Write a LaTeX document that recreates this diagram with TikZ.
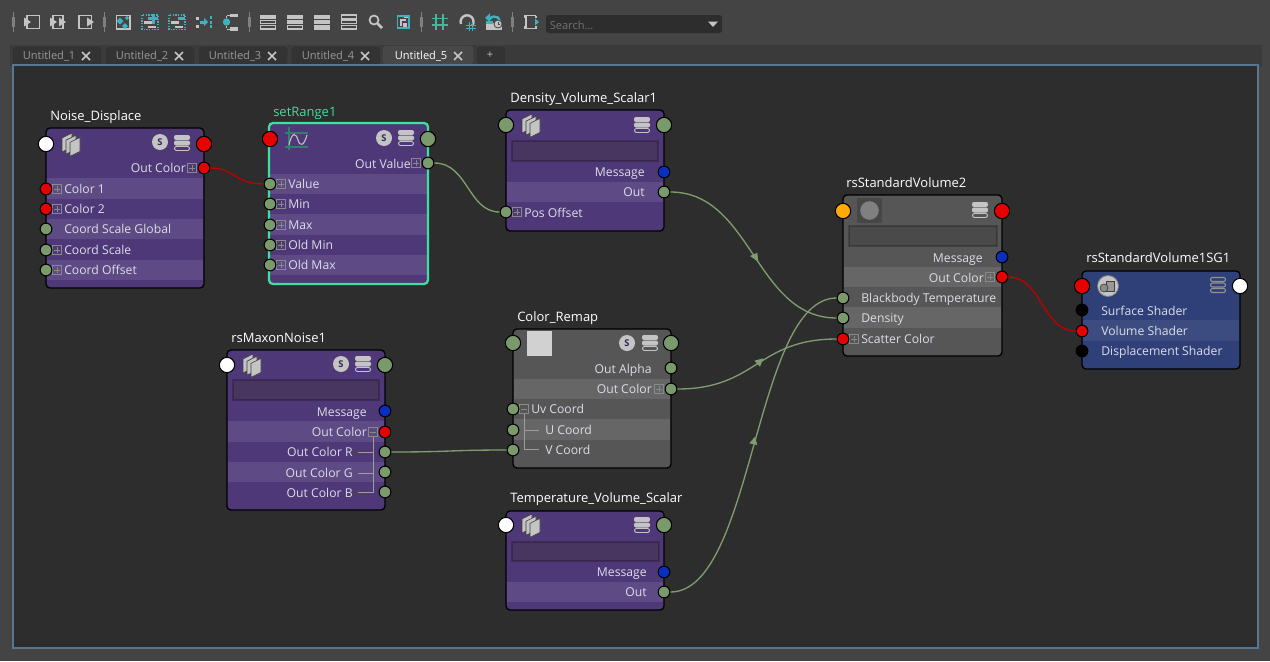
\documentclass[tikz,border=0pt]{standalone}
\usepackage{fontspec}
\setmainfont{Open Sans}
\usetikzlibrary{calc}
\definecolor{bgtop}{HTML}{444444}
\definecolor{strip}{HTML}{3A3A3A}
\definecolor{tabc}{HTML}{333333}
\definecolor{tabact}{HTML}{474747}
\definecolor{panel}{HTML}{2D2D2D}
\definecolor{frame}{HTML}{56778F}
\definecolor{pd}{HTML}{4E3878}
\definecolor{pl}{HTML}{5E4A85}
\definecolor{pf}{HTML}{483560}
\definecolor{gd}{HTML}{565656}
\definecolor{gl}{HTML}{666666}
\definecolor{gf}{HTML}{4A4A4A}
\definecolor{bd}{HTML}{2F3F78}
\definecolor{bl}{HTML}{3D4C80}
\definecolor{pgreen}{HTML}{7A9A6C}
\definecolor{pred}{HTML}{E60000}
\definecolor{pblue}{HTML}{0A2FC0}
\definecolor{porange}{HTML}{FFAA00}
\definecolor{ered}{HTML}{C00000}
\definecolor{egreen}{HTML}{7F9C70}
\definecolor{txt}{HTML}{DCDCE8}
\definecolor{icong}{HTML}{C4C4C4}
\definecolor{teal}{HTML}{3FB2C0}
\definecolor{mint}{HTML}{3DE0A0}
\definecolor{hgreen}{HTML}{45B79A}
\tikzset{
 x=0.75pt,y=-0.75pt,
 big/.style={circle,draw=black,line width=0.8pt,minimum size=11.5pt,inner sep=0pt},
 small/.style={circle,draw=black,line width=0.8pt,minimum size=8.8pt,inner sep=0pt},
 lab/.style={font=\fontsize{9.15}{11}\selectfont,text=txt,inner sep=0pt,text height=7pt,text depth=2pt,yshift=-1.2pt},
 title/.style={font=\fontsize{9.75}{12}\selectfont,text=white,inner sep=0pt,anchor=base west},
 tabt/.style={font=\fontsize{8.3}{10}\selectfont,text=#1,inner sep=0pt},
 wire/.style={line width=1pt},
 ic/.style={draw=icong,line width=0.9pt},
 teald/.style={draw=teal,line width=1pt,dash pattern=on 1pt off 1pt},
}
\newcommand{\nbody}[5]{\fill[#5,rounded corners=3pt] (#1,#2) rectangle (#3,#4);}
\newcommand{\noutline}[5][black]{\draw[line width=1pt,rounded corners=3pt,#1] (#2,#3) rectangle (#4,#5);}
\newcommand{\stripe}[5]{\fill[#5] (#1+1,#3) rectangle (#2-1,#4);}
\newcommand{\field}[5]{\fill[#5] (#1,#2) rectangle (#3,#4);\draw[black,opacity=.22,line width=.9pt] (#1,#2) rectangle (#3,#4);}
\newcommand{\stackicon}[3][icong]{\begin{scope}[shift={(#2,#3)}]
\fill[#1,rounded corners=1.5pt] (-8,-8) rectangle (8,-3);
\fill[#1,rounded corners=1.5pt] (-8,-2.5) rectangle (8,2.5);
\draw[#1,line width=.7pt,rounded corners=1.5pt] (-7.5,3.5) rectangle (7.5,7.5);
\end{scope}}
\newcommand{\stackopen}[2]{\begin{scope}[shift={(#1,#2)}]
\draw[icong!75!black,line width=.8pt,rounded corners=1.5pt] (-7.5,-7.5) rectangle (7.5,-3.5);
\draw[icong!75!black,line width=.8pt,rounded corners=1.5pt] (-7.5,-2) rectangle (7.5,2);
\draw[icong!75!black,line width=.8pt,rounded corners=1.5pt] (-7.5,3.5) rectangle (7.5,7.5);
\end{scope}}
\newcommand{\sicon}[2]{\fill[icong] (#1,#2) circle[radius=8];\node[font=\fontsize{7}{8}\bfseries\selectfont,text=pd!70!black,inner sep=0pt] at (#1,#2) {S};}
\newcommand{\fileicon}[2]{\begin{scope}[shift={(#1,#2)}]
\foreach \d in {0,4,8}{\fill[icong,draw=black!75,line width=.45pt] (-10+\d,-6+\d*.55) -- (0+\d,-11+\d*.55) -- (0+\d,3+\d*.55) -- (-10+\d,8+\d*.55) -- cycle;}
\end{scope}}
\newcommand{\plusb}[3][1]{\draw[icong!70!black,line width=.5pt] (#2-4.5,#3-4.5) rectangle (#2+4.5,#3+4.5);\draw[icong!70!black,line width=.5pt] (#2-3,#3) -- (#2+3,#3); \ifnum#1=1 \draw[icong!70!black,line width=.5pt] (#2,#3-3) -- (#2,#3+3);\fi}
\newcommand{\rlab}[4]{\node[lab,anchor=east] (#1) at (#2,#3) {#4};}
\newcommand{\llab}[4]{\node[lab,anchor=west] (#1) at (#2,#3) {#4};}
\newcommand{\ttl}[4]{\node[title,#4] (#1) at (#2) {#3};}
\newcommand{\port}[5]{\node[#1,fill=#2] (#3) at (#4,#5) {};}
\newcommand{\tab}[4]{\fill[#3,rounded corners=2pt] (#1,64) -- (#1,46) -- (#2,46) -- (#2,64) -- cycle; \draw[black!70,line width=.5pt,opacity=.6,rounded corners=2pt] (#1,64) -- (#1,46) -- (#2,46) -- (#2,64);}
\newcommand{\xmark}[2]{\draw[#2,line width=1.3pt] (#1-4,52) -- (#1+4,60) (#1-4,60) -- (#1+4,52);}
\newcommand{\sep}[1]{\draw[icong!65!black,line width=.6pt] (#1,12) -- (#1,32);\fill[icong!65!black] (#1-1.5,17) rectangle (#1+1.5,27);}
\begin{document}
\begin{tikzpicture}
\useasboundingbox (0,0) rectangle (1270,661);
\fill[bgtop] (0,0) rectangle (1270,661);
\fill[strip] (10,45) rectangle (1262,66);
% toolbar
\sep{13}\sep{104}\sep{249}\sep{421}\sep{512}
\draw[ic] (27,15.5) rectangle (39.5,28.5);\fill[icong] (24,17.5) -- (31,22) -- (24,26.5) -- cycle;
\draw[ic] (53,15.5) rectangle (63,28.5);\fill[icong] (50,17.5) -- (57,22) -- (50,26.5) -- cycle;\fill[icong] (59,17.5) -- (66,22) -- (59,26.5) -- cycle;
\draw[ic] (79,15.5) rectangle (91.5,28.5);\fill[icong] (87,17.5) -- (94,22) -- (87,26.5) -- cycle;
\draw[ic] (116.5,15.5) rectangle (130,29);
\foreach \a/\b/\s in {120/21/3.5,127/18/2.2,125/26/3}{\fill[teal] (\a-\s,\b) -- (\a,\b-\s) -- (\a+\s,\b) -- (\a,\b+\s) -- cycle;}
\draw[teald] (142,15) rectangle (158,29.5);\fill[teal] (148,17) rectangle (158,20);\fill[teal] (151.5,13.5) rectangle (154.5,23.5);\fill[icong] (144,21) rectangle (152,24);\fill[icong] (148,25.5) rectangle (156,28);
\draw[teald] (169,15) rectangle (185,29.5);\fill[teal] (178,17) rectangle (185,19.5);\fill[icong] (171,21) rectangle (179,24);\fill[icong] (175,25.5) rectangle (183,28);
\fill[icong] (196,16.5) rectangle (199,19.5);\fill[icong] (196,24.5) rectangle (199,27.5);\fill[teal] (200,20.5) rectangle (204,23.5);\fill[teal] (204,18) -- (208,22) -- (204,26) -- cycle;
\fill[teal] (210,16) rectangle (212,19);\fill[teal] (210,20.5) rectangle (212,23.5);\fill[teal] (210,25) rectangle (212,28);
\fill[teal] (226.5,22) circle[radius=3.7];\draw[icong,line width=.7pt] (226.5,16) -- (226.5,18) (226.5,28) -- (226.5,26) (226.5,15) -- (230,15) (226.5,29) -- (230,29);\fill[icong] (230,13.5) rectangle (238,17);\fill[icong] (230,27) rectangle (238,30.5);
\foreach \c/\a/\b/\e in {268/1/1/0,295/1/1/0,322/1/1/1,349/0/0/0}{
 \begin{scope}[shift={(\c,22)}]
 \ifnum\a=1 \fill[icong] (-8,-7.5) rectangle (8,-3);\else\draw[ic] (-7.5,-7) rectangle (7.5,-3);\fi
 \ifnum\e=1 \fill[icong] (-8,-2) rectangle (8,2);\else\ifnum\c=295 \fill[icong] (-8,-2) rectangle (8,2);\else\draw[ic] (-7.5,-1.7) rectangle (7.5,1.7);\fi\fi
 \ifnum\e=1 \fill[icong] (-8,3) rectangle (8,7.5);\else\draw[ic] (-7.5,3.2) rectangle (7.5,7);\fi
 \end{scope}}
\draw[icong,line width=1.3pt] (374,20) circle[radius=4.5];\draw[icong,line width=2pt] (377.5,23.5) -- (382,28);
\draw[teal,line width=1pt] (397.5,16) rectangle (409,28);\draw[icong,line width=1pt] (401,26) -- (401,20) -- (406,20) (404,17.5) -- (408,17.5) (404,24) rectangle (406,26);
\draw[hgreen,line width=.9pt] (432,18.5) -- (448,18.5) (432,25) -- (448,25) (436,14) -- (436,30) (443,14) -- (443,30);
\draw[icong,line width=1.8pt] (461,24) arc[start angle=-200,end angle=40,radius=6.5];
\draw[teal,line width=.7pt] (466,25) -- (476,25) (466,28.5) -- (476,28.5) (469,21.5) -- (469,31) (472.5,21.5) -- (472.5,31);
\fill[icong] (486,23) rectangle (502,30);\fill[teal] (486,21) rectangle (493,24);
\draw[teal,line width=1.8pt] (500,21) arc[start angle=-10,end angle=-150,radius=5.5];
\fill[teal] (490,13) -- (490,22) -- (485,18) -- cycle;
\fill[icong,draw=bgtop,line width=.6pt] (498,24) circle[radius=4];\draw[black!70,line width=.5pt] (498,22) -- (498,24) -- (500,24);
\draw[ic] (526,16) -- (526,28) (526,15.5) -- (536,15.5) (526,28.5) -- (536,28.5) (536,15.5) -- (536,18) (536,26) -- (536,28.5);\fill[icong] (524,15) rectangle (527,18);\fill[icong] (524,26) rectangle (527,29);\fill[teal] (535,18.5) -- (539,22) -- (535,25.5) -- cycle;
\fill[panel,rounded corners=2pt] (546,15) rectangle (722,33);
\node[font=\fontsize{8.3}{10}\selectfont,text=white!45!black,inner sep=0pt,anchor=west] (srch) at (549.5,25) {Search...};
\fill[icong] (708,21.5) -- (718,21.5) -- (713,27) -- cycle;
% tabs
\tab{12}{102}{tabc}{}\tab{105}{195}{tabc}{}\tab{198}{288}{tabc}{}\tab{291}{381}{tabc}{}\tab{383}{473}{tabact}{}\tab{476}{506}{tabc}{}
\node[tabt={white!60!black},anchor=west] (t1) at (22.5,56) {Untitled\_1};
\node[tabt={white!60!black},anchor=west] (t2) at (115.5,56) {Untitled\_2};
\node[tabt={white!60!black},anchor=west] (t3) at (208.5,56) {Untitled\_3};
\node[tabt={white!60!black},anchor=west] (t4) at (301.5,56) {Untitled\_4};
\node[tabt={white},anchor=west] (t5) at (394.5,56) {Untitled\_5};
\node[tabt={white!75!black}] (t6) at (490,55.5) {+};
\xmark{86}{icong}\xmark{179}{icong}\xmark{272}{icong}\xmark{365}{icong}\xmark{458}{icong}
% panel
\fill[panel] (13,65) rectangle (1258,648);
\draw[frame,line width=1pt] (13,65) rectangle (1258,648);
% Noise_Displace
\ttl{tNoise}{50,120}{Noise\_Displace}{}
\nbody{46}{128}{204}{288}{pd}
\stripe{46}{204}{178}{199}{pl}\stripe{46}{204}{219}{239}{pl}\stripe{46}{204}{260}{280}{pl}
\noutline{46}{128}{204}{288}
\fileicon{72}{144}\sicon{160}{142}\stackicon{182}{143}
\rlab{lnOut}{186}{168}{Out Color}\plusb{192}{168}
\plusb{57}{189}\llab{lnC1}{64}{189}{Color 1}
\plusb{57}{209}\llab{lnC2}{64}{209}{Color 2}
\llab{lnG}{64}{229}{Coord Scale Global}
\plusb{57}{250}\llab{lnS}{64}{250}{Coord Scale}
\plusb{57}{270}\llab{lnO}{64}{270}{Coord Offset}
\port{big}{white}{nIn}{46}{144}\port{big}{pred}{nOutB}{204}{144}
\port{small}{pred}{nOut}{204}{168}\port{small}{pred}{nC1}{46}{189}\port{small}{pred}{nC2}{46}{209}
\port{small}{pgreen}{nG}{46}{229}\port{small}{pgreen}{nS}{46}{250}\port{small}{pgreen}{nO}{46}{270}
% setRange1
\node[title,text=mint] (tSet) at (273,116) {setRange1};
\nbody{269}{123}{428}{284}{pd}
\stripe{269}{428}{174}{194}{pl}\stripe{269}{428}{214}{235}{pl}\stripe{269}{428}{255}{275}{pl}
\noutline[draw=mint,line width=1.7pt]{269}{123}{428}{284}
\draw[hgreen!70!black,line width=1pt] (289,127) -- (289,150) (285,133) -- (308,133) (285,147) -- (308,147);
\draw[icong,line width=.8pt] (289,145) .. controls (292,131) and (296,133) .. (298,140) .. controls (300,147) and (304,146) .. (307,135);
\sicon{384}{138}\stackicon{406}{138}
\rlab{lsOut}{411}{164}{Out Value}\plusb{416}{163}
\plusb{281}{184}\llab{lsV}{288}{184}{Value}
\plusb{281}{204}\llab{lsMin}{288}{204}{Min}
\plusb{281}{225}\llab{lsMax}{288}{225}{Max}
\plusb{281}{245}\llab{lsOMin}{288}{245}{Old Min}
\plusb{281}{265}\llab{lsOMax}{288}{265}{Old Max}
\port{big}{pred}{sIn}{270}{139}\port{big}{pgreen}{sOutB}{428}{139}
\port{small}{pgreen}{sOut}{428}{163}\port{small}{pgreen}{sV}{270}{184}\port{small}{pgreen}{sMin}{270}{204}
\port{small}{pgreen}{sMax}{270}{225}\port{small}{pgreen}{sOMin}{270}{245}\port{small}{pgreen}{sOMax}{270}{265}
% Density
\ttl{tDen}{510,102}{Density\_Volume\_Scalar1}{}
\nbody{506}{110}{664}{231}{pd}
\stripe{506}{664}{182}{202}{pl}
\noutline{506}{110}{664}{231}
\fileicon{532}{125}\stackicon{642}{125}
\field{512}{141}{658}{161}{pf}
\rlab{ldM}{645}{172}{Message}\rlab{ldO}{645}{192}{Out}
\plusb{517}{212}\llab{ldP}{524}{213}{Pos Offset}
\port{big}{pgreen}{dIn}{506}{125}\port{big}{pgreen}{dOutB}{664}{125}
\port{small}{pblue}{dM}{664}{172}\port{small}{pgreen}{dOut}{664}{192}\port{small}{pgreen}{dP}{506}{212}
% rsMaxonNoise1
\ttl{tMax}{231,342}{rsMaxonNoise1}{}
\nbody{227}{350}{385}{510}{pd}
\stripe{227}{385}{421}{442}{pl}\stripe{227}{385}{462}{482}{pl}
\noutline{227}{350}{385}{510}
\fileicon{253}{365}\sicon{341}{364}\stackicon{363}{364}
\field{233}{380}{379}{400}{pf}
\rlab{lmM}{367}{412}{Message}\rlab{lmC}{367}{432}{Out Color}\plusb[0]{373}{432}
\rlab{lmR}{353}{452}{Out Color R}\rlab{lmG}{353}{473}{Out Color G}\rlab{lmB}{353}{493}{Out Color B}
\draw[icong!80!black,line width=.5pt] (373,437) -- (373,492.5) (358,452.5) -- (373,452.5) (358,473) -- (373,473) (358,492.5) -- (373,492.5);
\port{big}{white}{mIn}{227}{365}\port{big}{pgreen}{mOutB}{385}{365}
\port{small}{pblue}{mM}{385}{411}\port{small}{pred}{mC}{385}{432}\port{small}{pgreen}{mR}{385}{452}\port{small}{pgreen}{mG}{385}{472}\port{small}{pgreen}{mB}{385}{492}
% Color_Remap
\ttl{tRem}{517,321}{Color\_Remap}{}
\nbody{513}{329}{671}{468}{gd}
\stripe{513}{671}{379}{399}{gl}\stripe{513}{671}{419}{440}{gl}
\noutline{513}{329}{671}{468}
\fill[white!82!black] (527,331) rectangle (552,356);
\sicon{627}{343}\stackicon{650}{343}
\rlab{lrA}{652}{369}{Out Alpha}\rlab{lrC}{652}{389}{Out Color}\plusb{659}{389}
\plusb[0]{524}{409}\llab{lrU}{531}{409}{Uv Coord}
\llab{lrUc}{545}{430}{U Coord}\llab{lrV}{545}{450}{V Coord}
\draw[icong!80!black,line width=.5pt] (524,414) -- (524,449.5) (524,430) -- (539,430) (524,449.5) -- (539,449.5);
\port{big}{pgreen}{rIn}{513}{343}\port{big}{pgreen}{rOutB}{671}{343}
\port{small}{pgreen}{rA}{671}{368}\port{small}{pgreen}{rC}{671}{389}\port{small}{pgreen}{rU}{513}{409}\port{small}{pgreen}{rUc}{513}{430}\port{small}{pgreen}{rV}{513}{450}
% Temperature
\ttl{tTmp}{510,502}{Temperature\_Volume\_Scalar}{}
\nbody{506}{511}{664}{610}{pd}
\stripe{506}{664}{582}{602}{pl}
\noutline{506}{511}{664}{610}
\fileicon{532}{525}\stackicon{642}{525}
\field{512}{542}{659}{561}{pf}
\rlab{ltM}{647}{572}{Message}\rlab{ltO}{647}{592}{Out}
\port{big}{white}{tIn}{506}{525}\port{big}{pgreen}{tOutB}{664}{525}
\port{small}{pblue}{tM}{664}{572}\port{small}{pgreen}{tOut}{664}{592}
% rsStandardVolume2
\ttl{tStd}{846,187}{rsStandardVolume2}{}
\nbody{843}{195}{1002}{356}{gd}
\stripe{843}{1002}{267}{287}{gl}\stripe{843}{1002}{307}{328}{gl}
\noutline{843}{195}{1002}{356}
\fill[black!72] (857,198) rectangle (882,223);\fill[white!50!black] (869.5,210.5) circle[radius=9.3];
\stackicon{980}{210}
\field{849}{226}{997}{246}{gf}
\rlab{lvM}{983}{258}{Message}\rlab{lvC}{984}{278}{Out Color}\plusb{990}{277}
\llab{lvB}{861}{298}{Blackbody Temperature}\llab{lvD}{861}{318}{Density}
\plusb{854}{339}\llab{lvS}{861}{339}{Scatter Color}
\port{big}{porange}{vIn}{843}{211}\port{big}{pred}{vOutB}{1002}{211}
\port{small}{pblue}{vM}{1002}{257}\port{small}{pred}{vC}{1002}{277}\port{small}{pgreen}{vB}{843}{298}\port{small}{pgreen}{vD}{843}{318}\port{small}{pred}{vS}{843}{339}
% SG
\ttl{tSG}{1086,262}{rsStandardVolume1SG1}{}
\nbody{1082}{271}{1240}{369}{bd}
\stripe{1082}{1240}{320}{341}{bl}
\noutline{1082}{271}{1240}{369}
\fill[icong,draw=black!50,line width=.6pt] (1108,286) circle[radius=10.5];
\fill[white!60!black,draw=black!75,line width=.5pt] (1106,281) rectangle (1114,291);\fill[white!55!black,draw=black!75,line width=.5pt] (1104,288) circle[radius=4];
\stackopen{1218}{285}
\llab{lgS}{1101}{311}{Surface Shader}\llab{lgV}{1101}{331}{Volume Shader}\llab{lgD}{1101}{351}{Displacement Shader}
\port{big}{pred}{gIn}{1082}{286}\port{big}{white}{gOutB}{1240}{286}
\port{small}{black}{gS}{1082}{310}\port{small}{pred}{gV}{1082}{331}\port{small}{black}{gD}{1082}{351}
% connectors
\draw[ered,wire] (nOut.east) .. controls (235,168) and (235,184) .. (sV.west);
\draw[egreen,wire] (sOut.east) .. controls (468,163) and (468,212) .. (dP.west);
\draw[egreen,wire] (dOut.east) .. controls (752,192) and (755,318) .. (vD.west);
\draw[egreen,wire] (mR.east) .. controls (450,452) and (450,450) .. (rV.west);
\draw[egreen,wire] (rC.east) .. controls (757,389) and (757,339) .. (vS.west);
\draw[egreen,wire] (tOut.east) .. controls (754,592) and (754,298) .. (vB.west);
\draw[ered,wire] (vC.east) .. controls (1042,277) and (1042,331) .. (gV.west);
\fill[egreen] (750,256) -- (757.3,252.7) -- (758.3,261.7) -- cycle;
\fill[egreen] (754.3,360.7) -- (763.3,358.3) -- (760,366.7) -- cycle;
\fill[egreen] (749.3,443.3) -- (757.3,445) -- (755,436.7) -- cycle;
\end{tikzpicture}
\end{document}
